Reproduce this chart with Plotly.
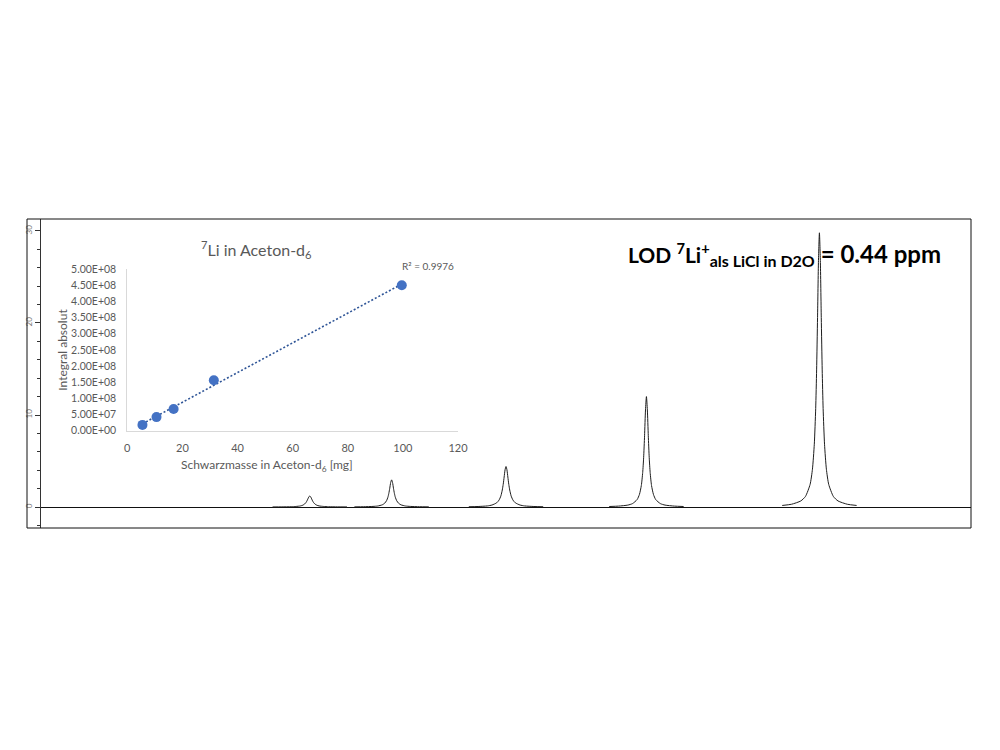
import numpy as np
import plotly.graph_objects as go

# ---------------- spectrum data (7Li NMR, stacked peaks) ----------------
peak_centers = [28.9, 37.7, 50.0, 65.1, 83.7]
# offsets from each peak centre (left half; the line shape is symmetric)
half_offsets = [-4, -3, -2, -1.5, -1.0, -0.75, -0.55, -0.4, -0.3, -0.2, -0.1, 0]
peak1_half = [0.01, 0.015, 0.03, 0.06, 0.12, 0.2, 0.33, 0.5, 0.67, 0.89, 1.1, 1.2]
peak2_half = [0.017, 0.03, 0.065, 0.11, 0.24, 0.41, 0.68, 1.06, 1.48, 2.04, 2.66, 2.95]
peak3_half = [0.03, 0.056, 0.12, 0.22, 0.46, 0.75, 1.21, 1.85, 2.46, 3.26, 4.05, 4.4]
peak4_half = [0.055, 0.1, 0.21, 0.37, 0.81, 1.38, 2.33, 3.76, 5.36, 7.75, 10.55, 12.0]
peak5_half = [0.17, 0.3, 0.66, 1.15, 2.46, 4.11, 6.82, 10.7, 14.9, 20.6, 26.8, 29.8]
peak_halves = [peak1_half, peak2_half, peak3_half, peak4_half, peak5_half]
spec_ticks = [0, 10, 20, 30]

# ---------------- inset calibration data ----------------
mass_mg = [5.5, 10.6, 16.8, 31.4, 99.6]
integral = [1.8e7, 4.2e7, 6.7e7, 1.56e8, 4.5e8]
inset_xticks = [0, 20, 40, 60, 80, 100, 120]
inset_yticks = [0, 5e7, 1e8, 1.5e8, 2e8, 2.5e8, 3e8, 3.5e8, 4e8, 4.5e8, 5e8]
inset_ytext = ["0.00E+00", "5.00E+07", "1.00E+08", "1.50E+08", "2.00E+08", "2.50E+08",
               "3.00E+08", "3.50E+08", "4.00E+08", "4.50E+08", "5.00E+08"]
r2_text = "R² = 0.9976"

FONT = "Lato"
GRAY = "#595959"


# layout helpers: convert a target pixel position to paper fractions
# (small correction for the slight scaling seen in the captured page)
def px(x):
    return ((x - 3.0) / 0.987) / 1000.0


def py(y):
    return 1.0 - ((y - 6.0) / 0.984) / 750.0


fig = go.Figure()

offsets = half_offsets + [-o for o in half_offsets[-2::-1]]
for c, half in zip(peak_centers, peak_halves):
    ys = half + half[-2::-1]
    fig.add_trace(go.Scatter(
        x=[c + o for o in offsets], y=ys, mode="lines",
        line=dict(color="#1e1e1e", width=1, shape="spline", smoothing=0.6),
        xaxis="x", yaxis="y", showlegend=False, hoverinfo="skip"))

# linear trendline
slope, intercept = np.polyfit(mass_mg, integral, 1)
tx = [min(mass_mg), max(mass_mg)]
ty = [slope * v + intercept for v in tx]
fig.add_trace(go.Scatter(
    x=tx, y=ty, mode="lines", line=dict(color="#2F5597", width=1.6, dash="2px,2px"),
    xaxis="x2", yaxis="y2", showlegend=False, hoverinfo="skip"))
fig.add_trace(go.Scatter(
    x=mass_mg, y=integral, mode="markers",
    marker=dict(color="#4472C4", size=10, line=dict(width=0)),
    xaxis="x2", yaxis="y2", showlegend=False))

NB = "\u00a0"
lod_text = ("<b>LOD <sup>7</sup>Li<sup>+</sup><sub><span style=\"font-size:16px\">"
            "als LiCl in D2O</span></sub>"
            "<span style=\"font-size:24px\">" + NB + "= 0.44 ppm</span></b>")

fig.update_layout(
    width=1000, height=750,
    margin=dict(l=0, r=0, t=0, b=0),
    paper_bgcolor="white", plot_bgcolor="rgba(0,0,0,0)",
    font=dict(family=FONT, color=GRAY),
    xaxis=dict(domain=[px(41), px(971)], range=[0, 100], visible=False),
    yaxis=dict(domain=[py(528), py(219)], range=[-2.28, 31.3], anchor="x",
               showline=True, linecolor="#333", linewidth=1,
               ticks="outside", ticklen=5, tickcolor="#333",
               tickvals=spec_ticks, tickangle=-90,
               tickfont=dict(size=8, color="#7a7a7a", family=FONT),
               showgrid=False, zeroline=True, zerolinecolor="#111", zerolinewidth=1,
               minor=dict(dtick=2, ticks="outside", ticklen=3, tickcolor="#333", showgrid=False)),
    xaxis2=dict(domain=[px(127.3), px(458)], range=[0, 120], anchor="y2",
                showline=True, linecolor="#D9D9D9", linewidth=1,
                tickvals=inset_xticks, ticks="", ticklabelstandoff=7,
                tickfont=dict(size=11, color=GRAY, family=FONT),
                showgrid=False, zeroline=False),
    yaxis2=dict(domain=[py(430.7), py(269)], range=[0, 5e8], anchor="x2",
                showline=True, linecolor="#D9D9D9", linewidth=1,
                tickvals=inset_yticks, ticktext=inset_ytext, ticks="", ticklabelstandoff=8,
                tickfont=dict(size=10.5, color=GRAY, family=FONT),
                showgrid=False, zeroline=False),
    shapes=[dict(type="rect", xref="paper", yref="paper",
                 x0=px(27), x1=px(971), y0=py(528), y1=py(219),
                 line=dict(color="#111", width=1), layer="above")],
    annotations=[
        dict(text="<sup>7</sup>Li in Aceton-d<sub>6</sub>", xref="paper", yref="paper",
             x=px(256.7), y=py(249), xanchor="center", yanchor="middle",
             showarrow=False, font=dict(size=16, color=GRAY)),
        dict(text="Schwarzmasse in Aceton-d<sub>6</sub> [mg]", xref="paper", yref="paper",
             x=px(266.7), y=py(465.7), xanchor="center", yanchor="middle",
             showarrow=False, font=dict(size=12, color=GRAY)),
        dict(text="Integral absolut", xref="paper", yref="paper", textangle=-90,
             x=px(61.7), y=py(350), xanchor="center", yanchor="middle",
             showarrow=False, font=dict(size=12, color=GRAY)),
        dict(text=r2_text, xref="paper", yref="paper",
             x=px(428), y=py(265.7), xanchor="center", yanchor="middle",
             showarrow=False, font=dict(size=10, color=GRAY)),
        dict(text=lod_text,
             xref="paper", yref="paper", x=px(626), y=py(254), xanchor="left", yanchor="middle",
             showarrow=False, font=dict(size=21, color="black", family=FONT)),
    ],
)

fig.write_html("out.html")
